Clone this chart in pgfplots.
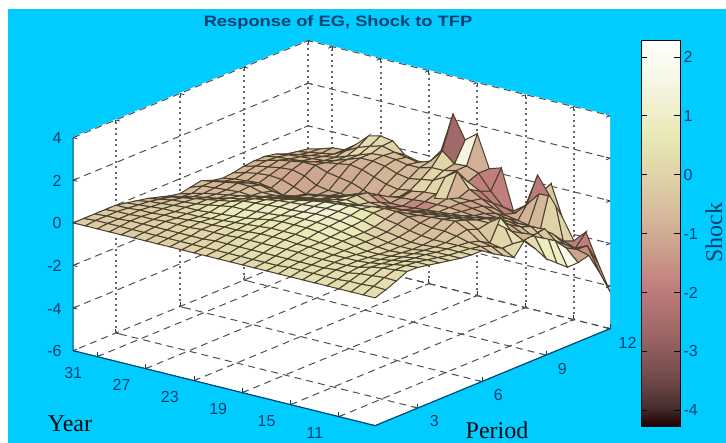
\documentclass[border=0pt]{standalone}
\usepackage{pgfplots}
\pgfplotsset{compat=1.18}
\usepackage{fontspec}
\setmainfont{Liberation Sans}
\newfontfamily\seriffont{Liberation Serif}
\definecolor{bgcyan}{HTML}{00CCFF}
\definecolor{axtext}{HTML}{00406E}
\definecolor{gridc}{HTML}{505050}
\definecolor{gridd}{HTML}{666666}
\pgfplotsset{colormap={mpink}{rgb=(.118,0,0) rgb=(.281,.183,.183) rgb=(.397,.258,.258) rgb=(.487,.316,.316) rgb=(.562,.365,.365) rgb=(.628,.408,.408) rgb=(.688,.447,.447) rgb=(.744,.483,.483) rgb=(.775,.545,.516) rgb=(.796,.612,.548) rgb=(.816,.672,.577) rgb=(.837,.727,.606) rgb=(.856,.778,.632) rgb=(.876,.826,.658) rgb=(.894,.872,.683) rgb=(.913,.913,.711) rgb=(.931,.931,.777) rgb=(.949,.949,.839) rgb=(.966,.966,.896) rgb=(.983,.983,.949) rgb=(1,1,1)}}
\begin{document}
\begin{tikzpicture}[x=1pt,y=1pt]
\useasboundingbox (0,0) rectangle (726,443);
\fill[white] (0,0) rectangle (726,443);
\fill[bgcyan] (8,0) rectangle (726,434);
\fill[white] (73,306) -- (308,403) -- (610,328) -- (610,115) -- (375,18) -- (73,93) -- cycle;
\begin{scope}[shift={(-35.5,9)}]
\begin{axis}[
  at={(208.5,56.5)}, anchor=center,
  x={(21.36pt,8.82pt)}, y={(-12.08pt,3pt)}, z={(0pt,21.3pt)},
  xmin=1,xmax=12,ymin=8,ymax=33,zmin=-6,zmax=4,
  xtick={3,6,9,12}, ytick={11,15,19,23,27,31}, ztick={-6,-4,-2,0,2,4},
  clip=false,
  axis line style={draw=none},
  tick style={axtext,line width=0.8pt},
  tick label style={text=axtext,font=\fontsize{16}{18}\selectfont,/pgf/number format/assume math mode=true},
  xticklabel style={xshift=9pt,yshift=-4pt},
  yticklabel style={xshift=-17pt,yshift=-6pt},
  zticklabel style={xshift=-8pt},
  point meta min=-4.27, point meta max=2.29,
]
\pgfplotsinvokeforeach{-4,-2,0,2,4}{
  \draw[gridc,dash pattern=on 7pt off 5pt,line width=1pt] (axis cs:1,33,#1) -- (axis cs:12,33,#1) -- (axis cs:12,8,#1);
}
\pgfplotsinvokeforeach{3,6,9,12}{
  \draw[gridc,dash pattern=on 7pt off 5pt,line width=1pt] (axis cs:#1,8,-6) -- (axis cs:#1,33,-6);
  \draw[gridd,dash pattern=on 2pt off 3.5pt,line width=2pt] (axis cs:#1,33,-6) -- (axis cs:#1,33,4);
}
\pgfplotsinvokeforeach{11,15,19,23,27,31}{
  \draw[gridc,dash pattern=on 7pt off 5pt,line width=1pt] (axis cs:1,#1,-6) -- (axis cs:12,#1,-6);
  \draw[gridd,dash pattern=on 2pt off 3.5pt,line width=2pt] (axis cs:12,#1,-6) -- (axis cs:12,#1,4);
}
\draw[gridc,dash pattern=on 7pt off 5pt,line width=1pt] (axis cs:12,8,-6) -- (axis cs:12,33,-6) -- (axis cs:1,33,-6);
\addplot3[surf,shader=flat corner,draw={rgb,1:red,0.29;green,0.25;blue,0.18},line width=1pt,z buffer=sort,point meta=explicit,mesh/rows=26,mesh/cols=23]
table[row sep=\\,x=x,y=y,z=z,meta=c]{
x y z c\\
1 8 0 .3\\1.5 8 .17 .3\\2 8 .38 .3\\2.5 8 .62 .3\\3 8 .6 .3\\3.5 8 .5 .2\\4 8 .4 .2\\4.5 8 .3 .2\\5 8 .2 .1\\5.5 8 .15 .1\\6 8 .14 -.2\\6.5 8 -.2 -.3\\7 8 -.5 -.3\\7.5 8 -.8 .2\\8 8 -.2 .1\\8.5 8 -.8 .3\\9 8 -1.47 .9\\9.5 8 -1.88 1\\10 8 -2.29 1.9\\10.5 8 -2.28 -1.2\\11 8 -2.15 -1.6\\11.5 8 -3.15 -2\\12 8 -4.27 -2\\
1 9 0 .3\\1.5 9 .2 .3\\2 9 .4 .3\\2.5 9 .55 .3\\3 9 .55 .3\\3.5 9 .5 .2\\4 9 .4 .2\\4.5 9 .3 .1\\5 9 .2 .1\\5.5 9 .15 0\\6 9 .1 -.2\\6.5 9 0 -.4\\7 9 -.2 -.4\\7.5 9 -.5 .1\\8 9 -.5 .4\\8.5 9 -.56 -.8\\9 9 -.49 -.5\\9.5 9 -.41 -.3\\10 9 -1.18 -.2\\10.5 9 -1.72 -1.3\\11 9 -2 -1.5\\11.5 9 -2.04 -1.9\\12 9 -3.05 -2\\
1 10 0 .3\\1.5 10 .15 .3\\2 10 .35 .3\\2.5 10 .5 .3\\3 10 .45 .3\\3.5 10 .4 .2\\4 10 .35 .2\\4.5 10 .3 .1\\5 10 .2 0\\5.5 10 .15 -.1\\6 10 .1 -.3\\6.5 10 .05 -.4\\7 10 -.1 -.4\\7.5 10 -.4 -.3\\8 10 .58 .5\\8.5 10 -.25 -1\\9 10 -.55 -.7\\9.5 10 -.9 -.3\\10 10 -1.2 -.1\\10.5 10 -1.5 -.1\\11 10 -1.9 -1.2\\11.5 10 -2.3 -1.9\\12 10 -1.74 -2\\
1 11 0 .3\\1.5 11 .15 .3\\2 11 .3 .4\\2.5 11 .4 .4\\3 11 .35 .3\\3.5 11 .3 .2\\4 11 .25 .1\\4.5 11 .2 0\\5 11 .15 -.2\\5.5 11 .1 -.3\\6 11 .1 -.4\\6.5 11 .2 -.5\\7 11 .3 -.5\\7.5 11 .1 -.4\\8 11 .2 -.3\\8.5 11 -.1 -.6\\9 11 -.3 -.7\\9.5 11 -.6 -.7\\10 11 -.8 -.7\\10.5 11 -1.1 -.7\\11 11 -1.55 0\\11.5 11 -2.1 0\\12 11 -2.3 -2\\
1 12 0 .3\\1.5 12 .1 .3\\2 12 .2 .4\\2.5 12 .25 .4\\3 12 .25 .3\\3.5 12 .2 .2\\4 12 .15 .1\\4.5 12 .1 0\\5 12 .05 -.2\\5.5 12 .05 -.3\\6 12 .1 -.5\\6.5 12 .3 -.6\\7 12 .56 -.6\\7.5 12 .4 -.5\\8 12 .2 -.4\\8.5 12 .05 -.6\\9 12 -.2 -.7\\9.5 12 -.5 -.8\\10 12 -.8 -.7\\10.5 12 -1.1 -.7\\11 12 -1.45 -.7\\11.5 12 .44 -.3\\12 12 -1.27 -2\\
1 13 0 .3\\1.5 13 .1 .3\\2 13 .2 .3\\2.5 13 .2 .4\\3 13 .2 .4\\3.5 13 .15 .3\\4 13 .1 .2\\4.5 13 .05 0\\5 13 .05 -.2\\5.5 13 .05 -.4\\6 13 .15 -.6\\6.5 13 .3 -.7\\7 13 .5 -.8\\7.5 13 .35 -.7\\8 13 .15 -.6\\8.5 13 -.05 -.6\\9 13 -.25 -1.2\\9.5 13 -.45 -1.2\\10 13 -.7 -1.2\\10.5 13 -1 -1.1\\11 13 -1.45 -.8\\11.5 13 -.17 -2\\12 13 -.47 -1.9\\
1 14 0 .3\\1.5 14 .1 .3\\2 14 .15 .3\\2.5 14 .2 .4\\3 14 .2 .4\\3.5 14 .15 .3\\4 14 .1 .2\\4.5 14 .1 .1\\5 14 .1 -.1\\5.5 14 .15 -.4\\6 14 .25 -.7\\6.5 14 .4 -.9\\7 14 .45 -.9\\7.5 14 .3 -.8\\8 14 .1 -.7\\8.5 14 -.1 -.7\\9 14 -.3 -1.2\\9.5 14 -.4 -1.2\\10 14 -.6 -1.2\\10.5 14 -.9 -1.2\\11 14 -1.5 -1\\11.5 14 -.8 -2\\12 14 .37 -1.9\\
1 15 0 .3\\1.5 15 .1 .3\\2 15 .15 .3\\2.5 15 .2 .4\\3 15 .2 .4\\3.5 15 .2 .4\\4 15 .2 .3\\4.5 15 .2 .2\\5 15 .2 0\\5.5 15 .25 -.2\\6 15 .4 -.6\\6.5 15 .55 -.9\\7 15 .4 -.8\\7.5 15 .25 -.8\\8 15 .05 -.7\\8.5 15 -.15 -.6\\9 15 -.25 -1.2\\9.5 15 -.3 -1.2\\10 15 -.4 -1.2\\10.5 15 -.7 -1.2\\11 15 -1.2 -1.9\\11.5 15 -1.36 -1.9\\12 15 -1.2 -1.9\\
1 16 0 .3\\1.5 16 .1 .3\\2 16 .15 .3\\2.5 16 .2 .4\\3 16 .25 .5\\3.5 16 .25 .6\\4 16 .3 .7\\4.5 16 .3 .7\\5 16 .3 .6\\5.5 16 .35 .3\\6 16 .5 -.3\\6.5 16 .65 -.7\\7 16 .35 -.9\\7.5 16 .2 -1\\8 16 0 -.9\\8.5 16 -.2 -.8\\9 16 -.2 -.8\\9.5 16 -.2 -.8\\10 16 -.3 -1\\10.5 16 -.4 -1.9\\11 16 -.8 -1.9\\11.5 16 -1.2 -1.9\\12 16 -1.6 -1.9\\
1 17 0 .3\\1.5 17 .05 .3\\2 17 .15 .4\\2.5 17 .25 .5\\3 17 .3 .6\\3.5 17 .3 .7\\4 17 .35 .8\\4.5 17 .4 .9\\5 17 .45 .9\\5.5 17 .5 .7\\6 17 .65 .3\\6.5 17 .65 -.4\\7 17 .3 -.9\\7.5 17 .15 -1.2\\8 17 -.1 -1.7\\8.5 17 -.25 -1.7\\9 17 -.2 -.8\\9.5 17 -.1 -.7\\10 17 -.3 -.8\\10.5 17 -.1 .2\\11 17 -.4 -1.9\\11.5 17 -.6 -1.9\\12 17 .28 -1.9\\
1 18 0 .2\\1.5 18 .05 .3\\2 18 .15 .4\\2.5 18 .25 .5\\3 18 .3 .6\\3.5 18 .35 .7\\4 18 .45 .8\\4.5 18 .5 .9\\5 18 .55 1\\5.5 18 .6 1\\6 18 .7 .7\\6.5 18 .6 .1\\7 18 .25 -.6\\7.5 18 .1 -1\\8 18 -.2 -1.6\\8.5 18 -.3 -1.7\\9 18 -.2 -.8\\9.5 18 -.05 -.8\\10 18 -.5 .1\\10.5 18 .6 .2\\11 18 -.1 -.8\\11.5 18 .1 -.9\\12 18 .1 -.9\\
1 19 0 .2\\1.5 19 .05 .3\\2 19 .15 .4\\2.5 19 .25 .5\\3 19 .35 .6\\3.5 19 .4 .7\\4 19 .5 .8\\4.5 19 .55 1.3\\5 19 .6 1.3\\5.5 19 .65 1.3\\6 19 .7 1\\6.5 19 .5 .4\\7 19 .2 -.3\\7.5 19 .05 -.8\\8 19 -.2 -1.6\\8.5 19 -.35 -1.2\\9 19 -.25 -.8\\9.5 19 -.1 -.8\\10 19 -.6 .1\\10.5 19 .2 .1\\11 19 .28 -.8\\11.5 19 .3 1.5\\12 19 1.6 1.5\\
1 20 0 .2\\1.5 20 .05 .3\\2 20 .15 .3\\2.5 20 .25 .4\\3 20 .35 .5\\3.5 20 .4 .6\\4 20 .5 .7\\4.5 20 .55 1.3\\5 20 .6 1.3\\5.5 20 .65 1.3\\6 20 .65 1.2\\6.5 20 .45 .6\\7 20 .2 0\\7.5 20 .1 -.7\\8 20 -.1 -1.6\\8.5 20 -.35 -.9\\9 20 -.3 -.8\\9.5 20 -.2 -.7\\10 20 -.6 .1\\10.5 20 -.1 .1\\11 20 .15 .1\\11.5 20 .26 -2.6\\12 20 1.17 -2.6\\
1 21 0 .1\\1.5 21 .05 .2\\2 21 .15 .3\\2.5 21 .25 .4\\3 21 .35 .5\\3.5 21 .4 .6\\4 21 .5 .7\\4.5 21 .55 1.1\\5 21 .55 1.2\\5.5 21 .6 1.2\\6 21 .6 1\\6.5 21 .4 .6\\7 21 .3 .1\\7.5 21 .3 -.6\\8 21 .2 -1.6\\8.5 21 -.1 -.9\\9 21 -.4 -.8\\9.5 21 -.6 -.7\\10 21 -.5 -.6\\10.5 21 -.2 -.5\\11 21 .15 -.5\\11.5 21 .73 -.6\\12 21 2.25 -.8\\
1 22 0 .1\\1.5 22 .05 .1\\2 22 .15 .2\\2.5 22 .25 .3\\3 22 .3 .4\\3.5 22 .35 .6\\4 22 .45 .8\\4.5 22 .45 .9\\5 22 .5 .9\\5.5 22 .55 .8\\6 22 .5 .7\\6.5 22 .3 .4\\7 22 .15 0\\7.5 22 .1 -.5\\8 22 0 -.8\\8.5 22 -.3 -.9\\9 22 -.7 -.9\\9.5 22 -.8 -.8\\10 22 -.6 -.7\\10.5 22 -.3 -.7\\11 22 0 -.5\\11.5 22 .1 -.4\\12 22 .37 -.4\\
1 23 0 0\\1.5 23 .05 .1\\2 23 .15 .1\\2.5 23 .2 .2\\3 23 .25 .4\\3.5 23 .3 .7\\4 23 .35 .8\\4.5 23 .4 .9\\5 23 .5 .9\\5.5 23 .5 .7\\6 23 .4 .5\\6.5 23 .2 .2\\7 23 0 -.1\\7.5 23 -.1 -.4\\8 23 -.2 -.7\\8.5 23 -.5 -.9\\9 23 -.9 -.9\\9.5 23 -.9 -.9\\10 23 -.5 -.8\\10.5 23 -.2 -.7\\11 23 0 -.6\\11.5 23 -.1 -.5\\12 23 -.38 -.4\\
1 24 0 0\\1.5 24 .05 0\\2 24 .1 .1\\2.5 24 .2 .2\\3 24 .25 .5\\3.5 24 .25 .7\\4 24 .25 .8\\4.5 24 .35 .9\\5 24 .45 .8\\5.5 24 .45 .6\\6 24 .3 .4\\6.5 24 .1 0\\7 24 -.1 -.2\\7.5 24 -.3 -.5\\8 24 -.4 -.7\\8.5 24 -.6 -.9\\9 24 -.9 -1\\9.5 24 -.7 -1\\10 24 -.3 -.8\\10.5 24 0 -.7\\11 24 .1 -.5\\11.5 24 0 -.3\\12 24 -.37 -.3\\
1 25 0 -.1\\1.5 25 .05 0\\2 25 .1 .1\\2.5 25 .2 .2\\3 25 .2 .4\\3.5 25 .2 .6\\4 25 .2 .8\\4.5 25 .3 .8\\5 25 .4 .7\\5.5 25 .35 .5\\6 25 .2 .2\\6.5 25 0 -.1\\7 25 -.2 -.3\\7.5 25 -.4 -.6\\8 25 -.5 -.8\\8.5 25 -.7 -1\\9 25 -.8 -1\\9.5 25 -.5 -1\\10 25 -.1 -.9\\10.5 25 .1 -.5\\11 25 .15 -.2\\11.5 25 .1 0\\12 25 -.23 0\\
1 26 0 -.1\\1.5 26 .05 -.1\\2 26 .1 0\\2.5 26 .15 .1\\3 26 .2 .3\\3.5 26 .15 .5\\4 26 .15 .7\\4.5 26 .3 .7\\5 26 .35 .6\\5.5 26 .25 .3\\6 26 .1 0\\6.5 26 -.1 -.2\\7 26 -.3 -.4\\7.5 26 -.5 -.6\\8 26 -.6 -.8\\8.5 26 -.8 -1\\9 26 -.8 -1\\9.5 26 -.4 -1\\10 26 0 -.7\\10.5 26 .1 -.3\\11 26 .1 .1\\11.5 26 .25 .2\\12 26 .28 .2\\
1 27 0 -.1\\1.5 27 .05 -.1\\2 27 .1 0\\2.5 27 .15 0\\3 27 .15 .1\\3.5 27 .1 .3\\4 27 .1 .5\\4.5 27 .2 .5\\5 27 .2 .3\\5.5 27 .1 0\\6 27 0 -.2\\6.5 27 -.2 -.4\\7 27 -.35 -.5\\7.5 27 -.6 -.7\\8 27 -.8 -.9\\8.5 27 -.9 -1.1\\9 27 -.7 -1.1\\9.5 27 -.3 -.9\\10 27 -.1 -.7\\10.5 27 -.1 -.3\\11 27 -.1 .2\\11.5 27 .1 .3\\12 27 .37 .3\\
1 28 0 -.2\\1.5 28 .05 -.1\\2 28 .1 -.1\\2.5 28 .15 0\\3 28 .1 0\\3.5 28 .1 .1\\4 28 .05 .2\\4.5 28 .1 .1\\5 28 .1 -.1\\5.5 28 0 -.3\\6 28 -.1 -.5\\6.5 28 -.3 -.6\\7 28 -.35 -.7\\7.5 28 -.5 -.9\\8 28 -.9 -1\\8.5 28 -.7 -1.1\\9 28 -.4 -1.1\\9.5 28 -.1 -1\\10 28 -.2 -.8\\10.5 28 -.3 -.6\\11 28 -.3 -.3\\11.5 28 -.1 -.1\\12 28 .23 0\\
1 29 0 -.2\\1.5 29 .05 -.2\\2 29 .1 -.1\\2.5 29 .1 -.1\\3 29 .1 -.1\\3.5 29 .05 -.1\\4 29 .05 -.1\\4.5 29 0 -.2\\5 29 0 -.4\\5.5 29 -.15 -.5\\6 29 -.2 -.6\\6.5 29 -.25 -.7\\7 29 -.2 -.8\\7.5 29 -.35 -.9\\8 29 -.7 -1\\8.5 29 -.5 -1.1\\9 29 -.25 -1\\9.5 29 -.1 -.9\\10 29 -.3 -.8\\10.5 29 -.45 -.7\\11 29 -.5 -.6\\11.5 29 -.4 -.5\\12 29 -.3 -.5\\
1 30 0 -.2\\1.5 30 .05 -.2\\2 30 .1 -.2\\2.5 30 .1 -.2\\3 30 .05 -.2\\3.5 30 .05 -.2\\4 30 0 -.3\\4.5 30 -.05 -.4\\5 30 -.1 -.5\\5.5 30 -.25 -.6\\6 30 -.3 -.7\\6.5 30 -.3 -.7\\7 30 -.2 -.8\\7.5 30 -.4 -.8\\8 30 -.6 -.9\\8.5 30 -.45 -.9\\9 30 -.3 -.9\\9.5 30 -.2 -.8\\10 30 -.4 -.8\\10.5 30 -.5 -.7\\11 30 -.6 -.7\\11.5 30 -.7 -.6\\12 30 -.7 -.6\\
1 31 0 -.2\\1.5 31 .05 -.2\\2 31 .05 -.2\\2.5 31 .05 -.2\\3 31 .05 -.3\\3.5 31 0 -.3\\4 31 -.05 -.4\\4.5 31 -.1 -.5\\5 31 -.2 -.6\\5.5 31 -.35 -.6\\6 31 -.4 -.7\\6.5 31 -.35 -.7\\7 31 -.3 -.7\\7.5 31 -.5 -.7\\8 31 -.65 -.8\\8.5 31 -.5 -.8\\9 31 -.4 -.8\\9.5 31 -.3 -.7\\10 31 -.45 -.7\\10.5 31 -.55 -.7\\11 31 -.7 -.7\\11.5 31 -.8 -.7\\12 31 -.75 -.7\\
1 32 0 -.2\\1.5 32 .05 -.2\\2 32 .05 -.2\\2.5 32 .05 -.3\\3 32 0 -.3\\3.5 32 -.05 -.4\\4 32 -.1 -.5\\4.5 32 -.2 -.5\\5 32 -.3 -.6\\5.5 32 -.5 -.6\\6 32 -.55 -.6\\6.5 32 -.4 -.6\\7 32 -.4 -.6\\7.5 32 -.6 -.7\\8 32 -.7 -.7\\8.5 32 -.6 -.7\\9 32 -.5 -.7\\9.5 32 -.45 -.7\\10 32 -.5 -.7\\10.5 32 -.6 -.7\\11 32 -.8 -.7\\11.5 32 -.9 -.7\\12 32 -.94 -.7\\
1 33 0 -.2\\1.5 33 0 -.2\\2 33 0 -.2\\2.5 33 0 -.3\\3 33 0 -.3\\3.5 33 -.1 -.4\\4 33 -.2 -.5\\4.5 33 -.3 -.5\\5 33 -.45 -.6\\5.5 33 -.6 -.6\\6 33 -.7 -.6\\6.5 33 -.6 -.6\\7 33 -.5 -.6\\7.5 33 -.7 -.7\\8 33 -.8 -.7\\8.5 33 -.75 -.7\\9 33 -.65 -.7\\9.5 33 -.6 -.7\\10 33 -.6 -.7\\10.5 33 -.7 -.7\\11 33 -.9 -.7\\11.5 33 -1 -.7\\12 33 -1.08 -.7\\
};
\draw[axtext,line width=1.1pt] (axis cs:1,33,4) -- (axis cs:1,33,-6) -- (axis cs:1,8,-6) -- (axis cs:12,8,-6);
\end{axis}
\end{scope}
\begin{axis}[
  at={(641pt,17pt)}, anchor=south west,
  scale only axis, width=39pt, height=386pt,
  xmin=0,xmax=1,ymin=-4.27,ymax=2.29,
  xtick=\empty, ytick={-4,-3,-2,-1,0,1,2},
  axis on top, tick align=inside, ytick pos=both, yticklabel pos=right,
  major tick length=6pt,
  axis line style={draw=black!80!axtext,line width=0.9pt},
  tick style={black!80!axtext,line width=0.8pt},
  yticklabel style={text=axtext,font=\fontsize{16}{18}\selectfont,/pgf/number format/assume math mode=true},
  point meta min=-4.27, point meta max=2.29,
]
\addplot[surf,shader=interp,mesh/cols=2,point meta=y] coordinates {(0,-4.27) (1,-4.27)

(0,2.29) (1,2.29)};
\end{axis}
\node[text=axtext,font=\bfseries\fontsize{15}{17}\selectfont,xscale=1.22] at (338,420) {Response of EG, Shock to TFP};
\node[text=black!85!axtext,font=\seriffont\fontsize{24}{26}\selectfont] at (70,19) {Year};
\node[text=black!85!axtext,font=\seriffont\fontsize{24}{26}\selectfont] at (497,13) {Period};
\node[text=axtext,font=\seriffont\fontsize{24}{26}\selectfont,rotate=90] at (714,210) {Shock};
\end{tikzpicture}
\end{document}
